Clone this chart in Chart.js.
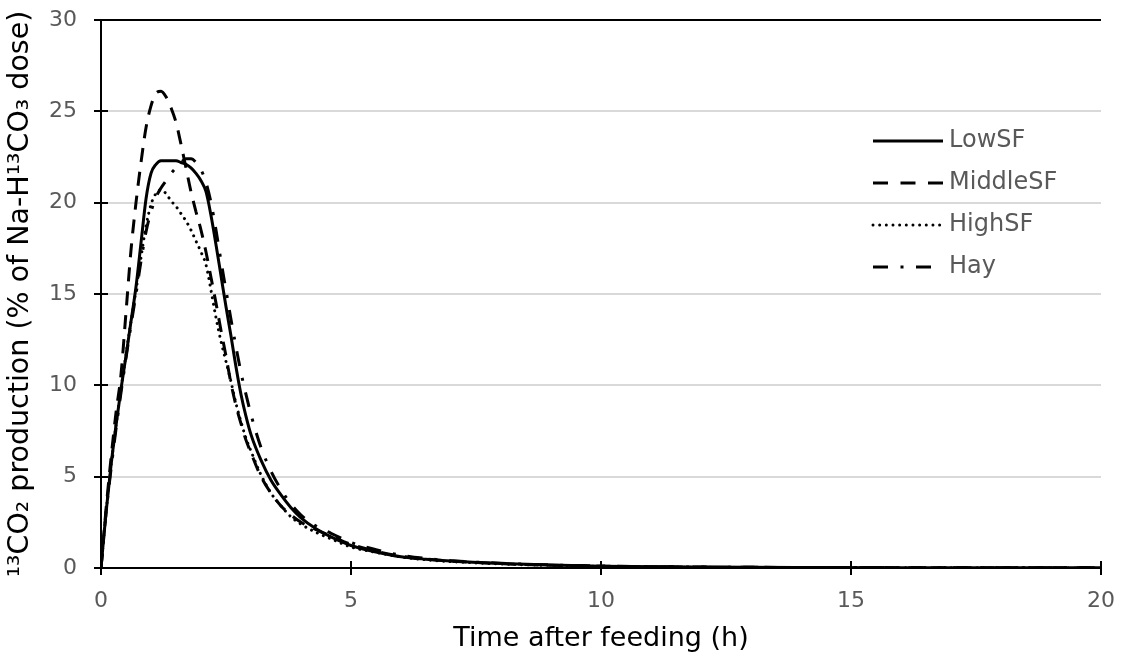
<!DOCTYPE html>
<html>
<head>
<meta charset="utf-8">
<script src="https://cdn.jsdelivr.net/npm/chart.js@4/dist/chart.umd.min.js"></script>
<style>
  html, body { margin: 0; padding: 0; background: #ffffff; }
  #wrap { width: 1125px; height: 657px; }
</style>
</head>
<body>
<div id="wrap"><canvas id="c" width="1125" height="657"></canvas></div>
<script>
// ---- Data ----
const times = [0, 0.1, 0.2, 0.3, 0.4, 0.5, 0.6, 0.7, 0.8, 0.9, 1.0, 1.1, 1.2, 1.3, 1.4, 1.5, 1.6, 1.7, 1.8, 1.9,
               2.0, 2.1, 2.2, 2.3, 2.4, 2.5, 2.6, 2.7, 2.8, 2.9, 3.0, 3.2, 3.4, 3.6, 3.8, 4.0, 4.3, 4.6, 5.0, 5.5,
               6.0, 6.5, 7.0, 8.0, 9.0, 10, 12, 14, 16, 18, 20];

const lowSF    = [0, 3.0, 5.6, 7.8, 9.8, 11.6, 13.5, 15.4, 17.8, 20.2, 21.6, 22.1, 22.3, 22.3, 22.3, 22.3, 22.2, 22.1, 21.9, 21.6,
                  21.2, 20.6, 19.3, 17.7, 16.0, 14.3, 12.7, 11.0, 9.5, 8.3, 7.3, 5.9, 4.8, 4.0, 3.3, 2.75, 2.15, 1.7, 1.23, 0.88,
                  0.62, 0.48, 0.38, 0.25, 0.16, 0.10, 0.05, 0.03, 0.02, 0.01, 0.01];

const middleSF = [0, 3.2, 6.0, 8.5, 10.6, 14.0, 17.4, 20.0, 22.2, 24.1, 25.3, 26.0, 26.1, 25.8, 25.2, 24.4, 23.2, 21.9, 20.6, 19.5,
                  18.5, 17.3, 15.9, 14.5, 13.0, 11.6, 10.1, 8.9, 7.9, 7.0, 6.3, 5.0, 4.1, 3.4, 2.9, 2.5, 2.1, 1.75, 1.3, 0.92,
                  0.65, 0.50, 0.38, 0.24, 0.15, 0.10, 0.05, 0.03, 0.02, 0.01, 0.01];

const highSF   = [0, 3.0, 5.6, 7.8, 9.8, 11.7, 13.5, 15.2, 17.0, 18.7, 19.9, 20.5, 20.7, 20.5, 20.1, 19.8, 19.4, 19.0, 18.5, 17.9,
                  17.3, 16.6, 15.2, 13.7, 12.4, 11.3, 10.2, 9.0, 8.0, 7.1, 6.4, 5.1, 4.1, 3.4, 2.8, 2.4, 1.95, 1.6, 1.15, 0.85,
                  0.60, 0.45, 0.35, 0.22, 0.14, 0.09, 0.04, 0.02, 0.01, 0.01, 0];

const hay      = [0, 3.0, 5.4, 7.6, 9.6, 11.5, 13.3, 15.0, 16.8, 18.4, 19.5, 20.3, 20.8, 21.2, 21.6, 21.9, 22.2, 22.4, 22.4, 22.2,
                  21.8, 21.1, 20.0, 18.5, 16.8, 15.2, 13.6, 12.1, 10.7, 9.5, 8.4, 6.6, 5.3, 4.3, 3.5, 2.9, 2.3, 1.9, 1.4, 1.0,
                  0.70, 0.52, 0.40, 0.26, 0.17, 0.11, 0.05, 0.03, 0.02, 0.01, 0.01];

const seriesNames = ['LowSF', 'MiddleSF', 'HighSF', 'Hay'];
const xTicks = [0, 5, 10, 15, 20];
const yTicks = [0, 5, 10, 15, 20, 25, 30];

// ---- Styles ----
const FONT = "'DejaVu Sans', Verdana, sans-serif";
const styles = [
  { dash: [], legendDash: [], cap: 'butt', width: 3, legendEnd: 943 },
  { dash: [14, 10], legendDash: [15, 12.5], cap: 'butt', width: 3, legendEnd: 943 },
  { dash: [0.01, 6.5], legendDash: [0.01, 6.65], cap: 'round', width: 3, legendEnd: 942 },
  { dash: [15, 12, 3, 12], legendDash: [15, 12.5, 3, 12.5], cap: 'butt', width: 3, legendEnd: 933 }
];
const seriesValues = [lowSF, middleSF, highSF, hay];

const datasets = seriesNames.map((name, i) => ({
  label: name,
  data: times.map((t, k) => ({ x: t, y: seriesValues[i][k] })),
  borderColor: '#000000',
  backgroundColor: '#000000',
  borderWidth: styles[i].width,
  borderDash: styles[i].dash,
  borderCapStyle: styles[i].cap,
  borderJoinStyle: 'round',
  pointRadius: 0,
  fill: false,
  cubicInterpolationMode: 'monotone'
}));

// crossing tick marks on both axes
const crossTicks = {
  id: 'crossTicks',
  afterDraw(chart) {
    const { ctx, chartArea: a, scales } = chart;
    ctx.save();
    ctx.strokeStyle = '#000';
    ctx.lineWidth = 2;
    ctx.beginPath();
    yTicks.forEach(v => {
      const y = Math.round(scales.y.getPixelForValue(v));
      ctx.moveTo(a.left - 7, y); ctx.lineTo(a.left + 7, y);
    });
    xTicks.forEach(v => {
      const x = Math.round(scales.x.getPixelForValue(v));
      ctx.moveTo(x, a.bottom - 7); ctx.lineTo(x, a.bottom + 7);
    });
    ctx.stroke();
    ctx.restore();
  }
};

// legend drawn inside the plot area
const innerLegend = {
  id: 'innerLegend',
  afterDraw(chart) {
    const { ctx } = chart;
    const rows = [141, 183, 225, 267];
    ctx.save();
    seriesNames.forEach((name, i) => {
      const y = rows[i];
      ctx.strokeStyle = '#000';
      ctx.lineWidth = styles[i].width;
      ctx.lineCap = styles[i].cap;
      ctx.setLineDash(styles[i].legendDash);
      ctx.beginPath();
      ctx.moveTo(873, y); ctx.lineTo(styles[i].legendEnd, y);
      ctx.stroke();
      ctx.setLineDash([]);
      ctx.fillStyle = '#595959';
      ctx.font = '24px ' + FONT;
      ctx.textBaseline = 'middle';
      ctx.textAlign = 'left';
      ctx.fillText(name, 949, y);
    });
    ctx.restore();
  }
};

Chart.defaults.font.family = FONT;

new Chart(document.getElementById('c'), {
  type: 'line',
  data: { datasets },
  options: {
    responsive: false,
    devicePixelRatio: 1,
    animation: false,
    layout: { padding: { top: 20, right: 24, left: 0, bottom: 0 } },
    plugins: { legend: { display: false }, tooltip: { enabled: false } },
    scales: {
      x: {
        type: 'linear', min: 0, max: 20,
        afterBuildTicks: s => { s.ticks = xTicks.map(v => ({ value: v })); },
        ticks: { color: '#595959', font: { size: 22 }, padding: 20, maxRotation: 0 },
        grid: { display: false, drawTicks: false },
        border: { display: true, color: '#000', width: 2 },
        title: { display: true, text: 'Time after feeding (h)', color: '#000', font: { size: 27 }, padding: { top: 0, bottom: 2 } },
        afterFit: s => { s.height = 89; s.paddingLeft = 0; s.paddingRight = 0; }
      },
      y: {
        type: 'linear', min: 0, max: 30,
        afterBuildTicks: s => { s.ticks = yTicks.map(v => ({ value: v })); },
        ticks: { color: '#595959', font: { size: 22 }, padding: 24 },
        grid: {
          drawTicks: false,
          lineWidth: 2,
          color: c => (c.tick && c.tick.value === 30) ? '#000000' : '#d9d9d9'
        },
        border: { display: true, color: '#000', width: 2 },
        title: { display: true, text: '¹³CO₂ production (% of Na-H¹³CO₃ dose)', color: '#000', font: { size: 28.5 }, padding: { top: 3, bottom: 0 } },
        afterFit: s => { s.width = 101; s.paddingTop = 0; s.paddingBottom = 0; }
      }
    }
  },
  plugins: [crossTicks, innerLegend]
});
</script>
</body>
</html>
